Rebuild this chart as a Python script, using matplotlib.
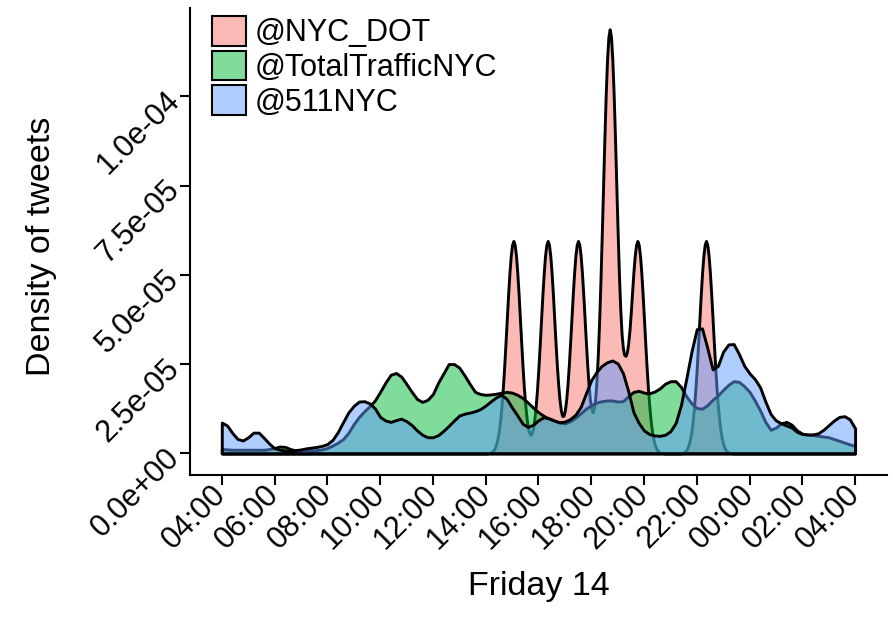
# -*- coding: utf-8 -*-
"""
Densidad de tweets por cuenta - viernes 14
"""
#- Importar modulos requeridos
import numpy as np
import matplotlib
matplotlib.use('Agg')
import matplotlib.pyplot as plt
from matplotlib.colors import to_rgba
from matplotlib.patches import Patch

plt.rcParams['font.family'] = ['Liberation Sans', 'DejaVu Sans']

#==============================================================================
#- Datos (densidades leidas en unidades de 1e-5)
#==============================================================================
cuentas = ['@NYC_DOT', '@TotalTrafficNYC', '@511NYC']
colores = ['#F8766D', '#00BA38', '#619CFF']

tick_horas = [4, 6, 8, 10, 12, 14, 16, 18, 20, 22, 24, 26, 28]
tick_etiq_x = ['04:00', '06:00', '08:00', '10:00', '12:00', '14:00', '16:00',
               '18:00', '20:00', '22:00', '00:00', '02:00', '04:00']
tick_dens = [0.0, 2.5e-5, 5.0e-5, 7.5e-5, 1.0e-4]
tick_etiq_y = ['0.0e+00', '2.5e-05', '5.0e-05', '7.5e-05', '1.0e-04']

#- @NYC_DOT, cada 0.05 h entre 14:00 y 23:30 (cero fuera de ese tramo)
horas_dot = np.round(np.arange(14.0, 23.5001, 0.05), 2)
dens_dot = [
    0.00, 0.00, 0.01, 0.01, 0.03, 0.05, 0.09, 0.16, 0.26, 0.42, 0.63, 0.94, 1.33, 1.82, 2.40, 3.06, 3.75, 4.43, 5.04, 5.53,
    5.84, 5.95, 5.84, 5.53, 5.04, 4.43, 3.75, 3.06, 2.40, 1.82, 1.36, 0.99, 0.72, 0.58, 0.52, 0.58, 0.72, 0.99, 1.36, 1.83,
    2.40, 3.06, 3.75, 4.43, 5.04, 5.53, 5.84, 5.95, 5.84, 5.53, 5.04, 4.43, 3.75, 3.06, 2.45, 1.91, 1.49, 1.20, 1.05, 1.05,
    1.20, 1.49, 1.91, 2.45, 3.09, 3.75, 4.43, 5.04, 5.53, 5.84, 5.95, 5.84, 5.53, 5.04, 4.44, 3.76, 3.09, 2.46, 1.92, 1.52,
    1.26, 1.15, 1.25, 1.53, 2.03, 2.75, 3.69, 4.83, 6.12, 7.48, 8.84, 10.06, 11.03, 11.66, 11.88, 11.66, 11.03, 10.07, 8.87, 7.53,
    6.22, 5.02, 4.05, 3.35, 2.95, 2.76, 2.73, 2.82, 3.07, 3.45, 3.95, 4.52, 5.08, 5.54, 5.84, 5.95, 5.84, 5.53, 5.04, 4.43,
    3.75, 3.06, 2.40, 1.82, 1.33, 0.94, 0.63, 0.42, 0.26, 0.16, 0.09, 0.05, 0.03, 0.01, 0.01, 0.00, 0.00, 0.00, 0.00, 0.00,
    0.00, 0.00, 0.00, 0.00, 0.00, 0.00, 0.00, 0.00, 0.00, 0.01, 0.03, 0.05, 0.09, 0.16, 0.26, 0.42, 0.63, 0.94, 1.33, 1.82,
    2.40, 3.06, 3.75, 4.43, 5.04, 5.53, 5.84, 5.95, 5.84, 5.53, 5.04, 4.43, 3.75, 3.06, 2.40, 1.82, 1.33, 0.94, 0.63, 0.42,
    0.26, 0.16, 0.09, 0.05, 0.03, 0.01, 0.01, 0.00, 0.00, 0.00, 0.00,
]

#- @TotalTrafficNYC y @511NYC, cada 0.2 h de 04:00 a 04:00
horas_dia = np.round(np.arange(4.0, 28.0001, 0.2), 1)
dens_ttn = [
    0.12, 0.11, 0.10, 0.10, 0.10, 0.10, 0.10, 0.10, 0.10, 0.12,
    0.15, 0.19, 0.18, 0.12, 0.08, 0.07, 0.07, 0.08, 0.09, 0.11,
    0.15, 0.22, 0.30, 0.40, 0.58, 0.82, 1.02, 1.18, 1.32, 1.48,
    1.72, 1.98, 2.20, 2.25, 2.15, 1.94, 1.72, 1.52, 1.44, 1.50,
    1.66, 1.98, 2.24, 2.50, 2.50, 2.40, 2.18, 1.94, 1.72, 1.66,
    1.64, 1.65, 1.67, 1.70, 1.72, 1.70, 1.64, 1.55, 1.42, 1.28,
    1.15, 1.05, 0.97, 0.91, 0.86, 0.84, 0.90, 1.00, 1.12, 1.25,
    1.35, 1.42, 1.46, 1.48, 1.48, 1.45, 1.46, 1.60, 1.72, 1.75,
    1.70, 1.68, 1.73, 1.82, 1.95, 2.02, 2.02, 1.86, 1.60, 1.40,
    1.27, 1.25, 1.35, 1.50, 1.62, 1.78, 1.92, 2.02, 2.00, 1.88,
    1.72, 1.48, 1.20, 0.88, 0.66, 0.72, 0.84, 0.88, 0.80, 0.64,
    0.55, 0.52, 0.51, 0.49, 0.47, 0.45, 0.40, 0.35, 0.30, 0.25,
    0.21,
]
dens_511 = [
    0.86, 0.78, 0.57, 0.40, 0.36, 0.45, 0.58, 0.58, 0.43, 0.27,
    0.14, 0.10, 0.08, 0.08, 0.09, 0.11, 0.14, 0.16, 0.18, 0.21,
    0.26, 0.38, 0.60, 0.88, 1.15, 1.33, 1.45, 1.46, 1.40, 1.26,
    1.02, 0.92, 0.88, 0.93, 0.97, 0.90, 0.79, 0.64, 0.52, 0.45,
    0.45, 0.51, 0.63, 0.77, 0.92, 1.06, 1.11, 1.14, 1.18, 1.24,
    1.34, 1.46, 1.57, 1.64, 1.52, 1.28, 1.06, 0.83, 0.74, 0.80,
    0.93, 1.01, 0.98, 0.92, 0.87, 0.89, 0.96, 1.08, 1.30, 1.68,
    2.05, 2.28, 2.45, 2.55, 2.60, 2.52, 2.25, 1.75, 1.15, 0.85,
    0.64, 0.54, 0.50, 0.49, 0.52, 0.62, 0.85, 1.35, 2.08, 2.85,
    3.48, 3.50, 2.95, 2.35, 2.45, 2.85, 3.05, 3.06, 2.78, 2.45,
    2.24, 2.08, 1.85, 1.45, 1.10, 0.92, 0.84, 0.78, 0.72, 0.60,
    0.54, 0.53, 0.53, 0.56, 0.66, 0.79, 0.92, 1.02, 1.04, 0.95,
    0.70,
]

#- la serie de @NYC_DOT cubre todo el dia (cero en los extremos)
x_dot = np.concatenate([[4.0], horas_dot, [28.0]])
y_dot = np.concatenate([[0.0], dens_dot, [0.0]])

datos = [(x_dot, y_dot),
         (horas_dia, np.array(dens_ttn)),
         (horas_dia, np.array(dens_511))]

#==============================================================================
#- Figura
#==============================================================================
fig = plt.figure(figsize=(8.93, 6.22), dpi=100)
ax = fig.add_axes([0.2129, 0.2371, 0.7801, 0.75])

lw_borde = 2.1
for (xx, yy), c in zip(datos, colores):
    ax.fill_between(xx, 0, yy * 1e-5, facecolor=to_rgba(c, 0.5),
                    edgecolor='black', linewidth=lw_borde, joinstyle='round')

#- limites con la expansion del 5%
ymax = max(np.max(y) for _, y in datos) * 1e-5
ax.set_xlim(4 - 0.05 * 24, 28 + 0.05 * 24)
ax.set_ylim(-0.05 * ymax, 1.05 * ymax)

for lado in ['top', 'right']:
    ax.spines[lado].set_visible(False)
for lado in ['left', 'bottom']:
    ax.spines[lado].set_linewidth(1.5)
    ax.spines[lado].set_color('black')

ax.tick_params(length=7, width=1.5, color='black', labelsize=22,
               labelcolor='black', pad=4)
ax.set_xticks(tick_horas)
ax.set_xticklabels(tick_etiq_x, rotation=45, ha='right', va='center',
                   rotation_mode='anchor')
ax.set_yticks(tick_dens)
ax.set_yticklabels(tick_etiq_y, rotation=45, ha='right', va='center',
                   rotation_mode='anchor')

ax.set_xlabel('Friday 14', fontsize=24.5, va='baseline')
ax.xaxis.set_label_coords(0.5, -0.258)
ax.set_ylabel('Density of tweets', fontsize=24.5, va='baseline')
ax.yaxis.set_label_coords(-0.201, 0.49)

#- leyenda
manijas = [Patch(facecolor=to_rgba(c, 0.5), edgecolor='black', linewidth=1.5)
           for c in colores]
fig.legend(manijas, cuentas, loc='upper left',
           bbox_to_anchor=(212 / 893, 1 - 16 / 622), frameon=False,
           fontsize=22, handlelength=1.12, handleheight=1.12,
           handletextpad=0.27, labelspacing=0.08, borderpad=0,
           borderaxespad=0)

plt.savefig('out.png', dpi=100)
plt.close()
